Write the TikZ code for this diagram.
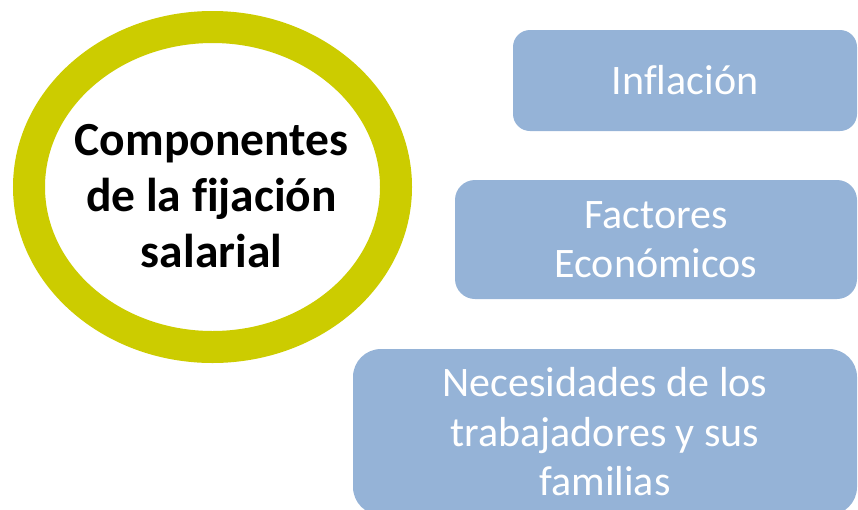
\documentclass[tikz,border=0pt]{standalone}
\usepackage{fontspec}
\setmainfont{Carlito}[Ligatures=CommonOff]
\usepackage{tikz}
\usetikzlibrary{shapes.geometric}
\definecolor{ringgreen}{RGB}{204,204,0}
\definecolor{boxblue}{RGB}{149,179,215}
\tikzset{
	ring/.style={ellipse, draw=ringgreen, line width=32pt, fill=white, inner sep=0pt},
	factor/.style={fill=boxblue, text=white, align=center, inner sep=0pt,
		font=\fontsize{42}{49.5}\selectfont}
}

\begin{document}
\begin{tikzpicture}[x=1pt,y=-1pt]
	\clip (0,0) rectangle (858,509);
	\node[ring, minimum width=367pt, minimum height=320pt] (ring) at (212.5,187) {};
	\node[align=center, font=\bfseries\fontsize{47.5}{56}\selectfont] (title) at (211.5,196) {Componentes\\de la fijación\\salarial};
	\node[factor, rounded corners=17pt, minimum width=344pt, minimum height=101pt] (infl) at (685,80.5) {Inflación};
	\node[factor, rounded corners=20pt, minimum width=402pt, minimum height=119pt] (econ) at (656,239.5) {Factores\\Económicos};
	\node[factor, rounded corners=28pt, minimum width=504pt, minimum height=166pt] (needs) at (605,432) {Necesidades de los\\trabajadores y sus\\familias};
\end{tikzpicture}
\end{document}
